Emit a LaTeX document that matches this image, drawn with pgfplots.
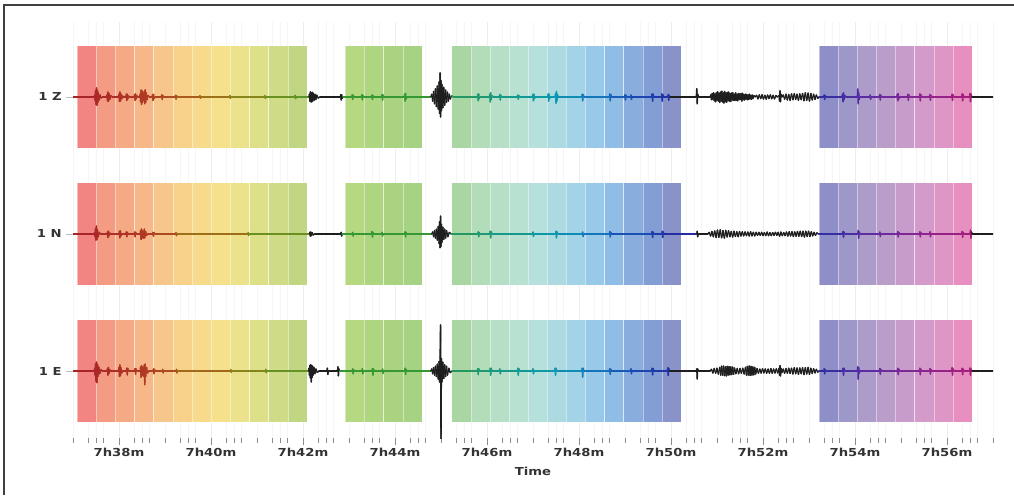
\documentclass[border=0pt]{standalone}
\usepackage{fontspec}
\setmainfont{DejaVu Sans}
\usepackage{pgfplots}
\usepackage{pgfplotstable}
\pgfplotsset{compat=1.18}

\definecolor{b1}{HTML}{F28482}\definecolor{b2}{HTML}{F49B84}\definecolor{b3}{HTML}{F5AA86}
\definecolor{b4}{HTML}{F6B888}\definecolor{b5}{HTML}{F7C68A}\definecolor{b6}{HTML}{F8D28B}
\definecolor{b7}{HTML}{F8DA8C}\definecolor{b8}{HTML}{F5E08C}\definecolor{b9}{HTML}{ECE28B}
\definecolor{b10}{HTML}{DEE089}\definecolor{b11}{HTML}{CFDB86}\definecolor{b12}{HTML}{C0D683}
\definecolor{b13}{HTML}{B6D881}\definecolor{b14}{HTML}{AED580}\definecolor{b15}{HTML}{A9D381}
\definecolor{b16}{HTML}{A6D284}\definecolor{b17}{HTML}{A9D6A2}\definecolor{b18}{HTML}{B3DCB9}
\definecolor{b19}{HTML}{B7DFC7}\definecolor{b20}{HTML}{B8E1D2}\definecolor{b21}{HTML}{B5E0DB}
\definecolor{b22}{HTML}{ADDAE1}\definecolor{b23}{HTML}{A3D3E6}\definecolor{b24}{HTML}{99C9E8}
\definecolor{b25}{HTML}{90BDE5}\definecolor{b26}{HTML}{89AEDD}\definecolor{b27}{HTML}{829ED4}
\definecolor{b28}{HTML}{8A93C9}\definecolor{b29}{HTML}{8E8FC8}\definecolor{b30}{HTML}{9E97C9}
\definecolor{b31}{HTML}{AD9BCA}\definecolor{b32}{HTML}{BB9DCA}\definecolor{b33}{HTML}{C79CCA}
\definecolor{b34}{HTML}{D39ACA}\definecolor{b35}{HTML}{DD96C5}\definecolor{b36}{HTML}{E78FBE}

\definecolor{tk}{HTML}{1E1E1E}
\definecolor{t1}{HTML}{A82226}\definecolor{t2}{HTML}{B03A26}\definecolor{t3}{HTML}{A8601C}
\definecolor{t4}{HTML}{908218}\definecolor{t5}{HTML}{669222}\definecolor{t6}{HTML}{56962A}
\definecolor{t7}{HTML}{369832}\definecolor{t8}{HTML}{289858}\definecolor{t9}{HTML}{149A8A}
\definecolor{t10}{HTML}{0C98B0}\definecolor{t11}{HTML}{1670BE}\definecolor{t12}{HTML}{1C3EAE}
\definecolor{t13}{HTML}{262CA2}\definecolor{t14}{HTML}{2C2EA2}\definecolor{t15}{HTML}{5C2CA2}
\definecolor{t16}{HTML}{882692}\definecolor{t17}{HTML}{A81C7A}

\pgfplotstableread{
t a
37.00 0
37.46 0
37.47 0.012
37.48 -0.025
37.49 0.045
37.50 -0.055
37.51 0.066
37.52 -0.06
37.53 0.05
37.54 -0.04
37.55 0.03
37.57 -0.022
37.59 0.015
37.61 -0.008
37.64 0
37.73 0
37.74 0.015
37.75 -0.028
37.76 0.036
37.77 -0.032
37.78 0.025
37.80 -0.018
37.82 0.01
37.85 0
37.99 0
38.00 0.02
38.01 -0.033
38.02 0.036
38.03 -0.03
38.04 0.022
38.06 -0.014
38.08 0.007
38.10 0
38.15 0
38.16 0.02
38.17 -0.025
38.18 0.02
38.19 -0.014
38.21 0.007
38.23 0
38.33 0
38.34 0.018
38.35 -0.025
38.36 0.022
38.37 -0.015
38.39 0.008
38.41 0
38.45 0
38.46 0.02
38.47 -0.035
38.48 0.05
38.49 -0.055
38.50 0.045
38.51 -0.04
38.52 0.032
38.54 -0.028
38.55 0.04
38.56 -0.05
38.57 0.052
38.58 -0.04
38.59 0.03
38.61 -0.02
38.63 0.012
38.66 0
38.72 0
38.73 0.015
38.74 -0.025
38.75 0.02
38.76 -0.012
38.78 0
38.92 0
38.93 0.015
38.94 -0.018
38.95 0.012
38.97 0
39.22 0
39.23 0.012
39.24 -0.016
39.25 0.01
39.27 0
39.75 0
39.76 0.01
39.77 -0.01
39.78 0
40.40 0
40.41 0.01
40.42 -0.01
40.43 0
41.16 0
41.17 0.01
41.18 -0.01
41.19 0
41.82 0
41.83 0.012
41.84 -0.012
41.85 0
42.13 0
42.14 0.02
42.15 -0.03
42.16 0.036
42.17 -0.035
42.18 0.03
42.19 -0.036
42.20 0.034
42.21 -0.03
42.22 0.028
42.24 -0.025
42.26 0.02
42.28 -0.018
42.30 0.013
42.33 -0.008
42.37 0
42.81 0
42.82 0.015
42.83 -0.022
42.84 0.016
42.85 -0.01
42.87 0
43.06 0
43.07 0.015
43.08 -0.018
43.09 0.012
43.11 0
43.27 0
43.28 0.016
43.29 -0.02
43.30 0.012
43.32 0
43.49 0
43.50 0.014
43.51 -0.018
43.52 0.01
43.54 0
43.71 0
43.72 0.018
43.73 -0.022
43.74 0.014
43.76 0
44.20 0
44.21 0.02
44.22 -0.03
44.23 0.025
44.24 -0.015
44.26 0
44.78 0
44.80 0.02
44.82 -0.03
44.84 0.04
44.86 -0.05
44.88 0.06
44.90 -0.07
44.92 0.08
44.94 -0.09
44.96 0.11
44.97 -0.12
44.98 0.175
44.99 -0.146
45.00 0.12
45.01 -0.1
45.02 0.09
45.04 -0.08
45.06 0.07
45.08 -0.06
45.10 0.05
45.12 -0.04
45.14 0.035
45.16 -0.03
45.18 0.02
45.20 -0.015
45.23 0.01
45.27 0
45.79 0
45.80 0.02
45.81 -0.028
45.82 0.022
45.83 -0.012
45.85 0
46.05 0
46.06 0.02
46.07 -0.036
46.08 0.03
46.09 -0.02
46.11 0.01
46.13 0
46.27 0
46.28 0.018
46.29 -0.022
46.30 0.012
46.32 0
46.66 0
46.67 0.014
46.68 -0.016
46.69 0.01
46.71 0
46.99 0
47.00 0.02
47.01 -0.028
47.02 0.02
47.03 -0.012
47.05 0
47.32 0
47.33 0.022
47.34 -0.03
47.35 0.02
47.36 -0.012
47.38 0
47.48 0
47.49 0.025
47.50 -0.045
47.51 0.04
47.52 -0.03
47.53 0.018
47.55 0
48.06 0
48.07 0.02
48.08 -0.028
48.09 0.018
48.11 0
48.66 0
48.67 0.022
48.68 -0.028
48.69 0.018
48.71 0
48.99 0
49.00 0.016
49.01 -0.022
49.02 0.012
49.04 0
49.12 0
49.13 0.014
49.14 -0.018
49.15 0
49.58 0
49.59 0.022
49.60 -0.03
49.61 0.02
49.63 0
49.79 0
49.80 0.022
49.81 -0.03
49.82 0.018
49.84 0
49.93 0
49.94 0.018
49.95 -0.024
49.96 0.012
49.98 0
50.55 0
50.56 0.06
50.57 -0.05
50.58 0.02
50.60 0
50.85 0
50.865 0.015
50.88 -0.02
50.895 0.025
50.91 -0.018
50.925 0.03
50.94 -0.028
50.955 0.022
50.97 -0.035
50.985 0.03
51.00 -0.025
51.015 0.038
51.03 -0.03
51.045 0.028
51.06 -0.04
51.075 0.035
51.09 -0.03
51.105 0.042
51.12 -0.036
51.135 0.03
51.15 -0.044
51.165 0.04
51.18 -0.035
51.195 0.03
51.21 -0.038
51.225 0.033
51.24 -0.028
51.255 0.036
51.27 -0.03
51.285 0.025
51.30 -0.032
51.315 0.028
51.33 -0.022
51.345 0.03
51.36 -0.025
51.375 0.02
51.39 -0.026
51.405 0.03
51.42 -0.024
51.435 0.02
51.45 -0.028
51.465 0.025
51.48 -0.02
51.495 0.022
51.51 -0.018
51.525 0.025
51.54 -0.03
51.555 0.026
51.57 -0.02
51.585 0.018
51.60 -0.022
51.615 0.02
51.63 -0.016
51.645 0.018
51.66 -0.02
51.675 0.015
51.69 -0.018
51.705 0.02
51.72 -0.015
51.735 0.012
51.75 -0.016
51.765 0.014
51.78 -0.012
51.80 0.01
51.83 0
51.86 0.012
51.89 -0.014
51.92 0.015
51.95 -0.012
51.98 0.016
52.01 -0.015
52.04 0.012
52.07 -0.016
52.10 0.014
52.13 -0.012
52.16 0.015
52.19 -0.013
52.22 0.012
52.25 -0.014
52.28 0.01
52.31 0
52.35 0.01
52.36 -0.03
52.37 0.045
52.38 -0.035
52.39 0.02
52.41 0
52.44 0.014
52.47 -0.016
52.50 0.02
52.53 -0.022
52.56 0.018
52.59 -0.025
52.62 0.022
52.65 -0.02
52.68 0.024
52.71 -0.018
52.74 0.02
52.77 -0.024
52.80 0.022
52.83 -0.02
52.86 0.025
52.89 -0.028
52.92 0.03
52.95 -0.025
52.98 0.028
53.01 -0.03
53.04 0.025
53.07 -0.022
53.10 0.02
53.13 -0.018
53.16 0.014
53.19 -0.01
53.22 0
53.32 0
53.33 0.014
53.34 -0.018
53.35 0.01
53.37 0
53.72 0
53.73 0.02
53.74 -0.035
53.75 0.03
53.76 -0.02
53.78 0.01
53.80 0
54.05 0
54.06 0.058
54.07 -0.05
54.08 0.03
54.09 -0.018
54.11 0
54.32 0
54.33 0.014
54.34 -0.016
54.35 0
54.53 0
54.54 0.018
54.55 -0.022
54.56 0.012
54.58 0
54.91 0
54.92 0.02
54.93 -0.028
54.94 0.025
54.95 -0.015
54.97 0
55.14 0
55.15 0.02
55.16 -0.025
55.17 0.015
55.19 0
55.40 0
55.41 0.022
55.42 -0.028
55.43 0.018
55.45 0
55.62 0
55.63 0.018
55.64 -0.024
55.65 0.012
55.67 0
56.10 0
56.11 0.02
56.12 -0.025
56.13 0.015
56.15 0
56.32 0
56.33 0.022
56.34 -0.028
56.35 0.018
56.37 0
56.49 0
56.50 0.025
56.51 -0.035
56.52 0.022
56.54 0
57.00 0
}\Ztr

\pgfplotstableread{
t a
37.00 0
37.46 0
37.47 0.01
37.48 -0.02
37.49 0.04
37.50 -0.045
37.51 0.058
37.52 -0.04
37.53 0.03
37.55 -0.02
37.57 0.012
37.60 0
37.74 0
37.75 0.015
37.76 -0.025
37.77 0.02
37.78 -0.014
37.80 0.007
37.82 0
38.00 0
38.01 0.02
38.02 -0.028
38.03 0.022
38.04 -0.014
38.06 0
38.15 0
38.16 0.015
38.17 -0.02
38.18 0.012
38.20 0
38.33 0
38.34 0.014
38.35 -0.02
38.36 0.012
38.38 0
38.46 0
38.47 0.025
38.48 -0.04
38.49 0.036
38.50 -0.03
38.52 0.022
38.54 -0.03
38.55 0.035
38.56 -0.028
38.58 0.018
38.60 -0.01
38.63 0
38.73 0
38.74 0.012
38.75 -0.016
38.76 0.01
38.78 0
39.23 0
39.24 0.01
39.25 -0.012
39.26 0
40.80 0
40.81 0.01
40.82 -0.01
40.83 0
42.14 0
42.15 0.012
42.16 -0.016
42.17 0.014
42.18 -0.012
42.20 0.01
42.22 -0.008
42.25 0
42.82 0
42.83 0.012
42.84 -0.015
42.85 0
43.07 0
43.08 0.012
43.09 -0.015
43.10 0
43.49 0
43.50 0.018
43.51 -0.022
43.52 0.012
43.54 0
43.71 0
43.72 0.012
43.73 -0.014
43.74 0
44.21 0
44.22 0.016
44.23 -0.02
44.24 0.01
44.26 0
44.80 0
44.82 0.015
44.84 -0.02
44.86 0.025
44.88 -0.03
44.90 0.035
44.92 -0.045
44.94 0.055
44.96 -0.07
44.97 0.09
44.98 -0.1
44.99 0.13
45.00 -0.09
45.01 0.07
45.02 -0.06
45.04 0.05
45.06 -0.04
45.08 0.035
45.10 -0.03
45.12 0.025
45.15 -0.02
45.18 0.012
45.22 0
45.80 0
45.81 0.015
45.82 -0.02
45.83 0.01
45.85 0
46.06 0
46.07 0.02
46.08 -0.028
46.09 0.018
46.11 0
46.99 0
47.00 0.014
47.01 -0.018
47.02 0
47.49 0
47.50 0.02
47.51 -0.028
47.52 0.016
47.54 0
48.07 0
48.08 0.014
48.09 -0.018
48.10 0
48.66 0
48.67 0.018
48.68 -0.022
48.69 0.012
48.71 0
49.58 0
49.59 0.018
49.60 -0.024
49.61 0.014
49.63 0
49.80 0
49.81 0.02
49.82 -0.026
49.83 0.014
49.85 0
50.56 0
50.57 0.02
50.58 -0.02
50.59 0
50.80 0
50.83 0.012
50.86 -0.015
50.89 0.018
50.92 -0.02
50.95 0.022
50.98 -0.025
51.01 0.028
51.04 -0.024
51.07 0.03
51.10 -0.028
51.13 0.025
51.16 -0.03
51.19 0.026
51.22 -0.022
51.25 0.024
51.28 -0.02
51.31 0.018
51.34 -0.022
51.37 0.02
51.40 -0.018
51.43 0.016
51.46 -0.02
51.49 0.018
51.52 -0.015
51.55 0.016
51.58 -0.014
51.61 0.015
51.64 -0.012
51.67 0.014
51.70 -0.015
51.73 0.016
51.76 -0.014
51.79 0.012
51.82 -0.014
51.85 0.012
51.88 -0.01
51.91 0.012
51.94 -0.01
51.97 0.012
52.00 -0.012
52.03 0.01
52.06 -0.012
52.09 0.014
52.12 -0.012
52.15 0.01
52.18 -0.012
52.21 0.01
52.24 -0.01
52.27 0.012
52.30 -0.01
52.33 0.012
52.36 -0.016
52.39 0.014
52.42 -0.012
52.45 0.01
52.48 -0.012
52.51 0.014
52.54 -0.015
52.57 0.016
52.60 -0.014
52.63 0.016
52.66 -0.018
52.69 0.015
52.72 -0.016
52.75 0.018
52.78 -0.016
52.81 0.02
52.84 -0.018
52.87 0.02
52.90 -0.022
52.93 0.02
52.96 -0.018
52.99 0.02
53.02 -0.018
53.05 0.016
53.08 -0.014
53.11 0.012
53.14 -0.01
53.17 0.008
53.21 0
53.73 0
53.74 0.018
53.75 -0.024
53.76 0.014
53.78 0
54.06 0
54.07 0.025
54.08 -0.03
54.09 0.015
54.11 0
54.53 0
54.54 0.014
54.55 -0.018
54.56 0
54.92 0
54.93 0.018
54.94 -0.022
54.95 0.012
54.97 0
55.40 0
55.41 0.016
55.42 -0.02
55.43 0.01
55.45 0
55.62 0
55.63 0.016
55.64 -0.02
55.65 0
56.32 0
56.33 0.018
56.34 -0.024
56.35 0.012
56.37 0
56.50 0
56.51 0.028
56.52 -0.03
56.53 0.015
56.55 0
57.00 0
}\Ntr

\pgfplotstableread{
t a
37.00 0
37.46 0
37.47 0.015
37.48 -0.03
37.49 0.05
37.50 -0.075
37.51 0.065
37.52 -0.085
37.53 0.05
37.54 -0.04
37.56 0.03
37.58 -0.02
37.61 0.01
37.64 0
37.74 0
37.75 0.018
37.76 -0.03
37.77 0.026
37.78 -0.018
37.80 0.01
37.82 0
37.99 0
38.00 0.025
38.01 -0.04
38.02 0.044
38.03 -0.035
38.04 0.025
38.06 -0.015
38.08 0
38.16 0
38.17 0.02
38.18 -0.028
38.19 0.02
38.21 0
38.34 0
38.35 0.018
38.36 -0.024
38.37 0.015
38.39 0
38.46 0
38.47 0.03
38.48 -0.045
38.49 0.04
38.50 -0.035
38.52 0.03
38.54 -0.04
38.55 0.045
38.56 -0.1
38.57 0.05
38.58 -0.04
38.60 0.025
38.62 -0.015
38.65 0
38.74 0
38.75 0.015
38.76 -0.02
38.77 0.012
38.79 0
38.94 0
38.95 0.012
38.96 -0.014
38.97 0
39.24 0
39.25 0.012
39.26 -0.014
39.27 0
40.42 0
40.43 0.01
40.44 -0.01
40.45 0
41.18 0
41.19 0.012
41.20 -0.012
41.21 0
42.12 0
42.13 0.02
42.14 -0.03
42.15 0.04
42.16 -0.05
42.17 0.045
42.18 -0.08
42.19 0.04
42.20 -0.045
42.21 0.035
42.22 -0.03
42.24 0.025
42.26 -0.02
42.28 0.015
42.31 -0.01
42.35 0
42.52 0
42.53 0.02
42.54 -0.025
42.55 0
42.75 0
42.76 0.03
42.77 -0.035
42.78 0.015
42.80 0
43.07 0
43.08 0.015
43.09 -0.02
43.10 0.01
43.12 0
43.28 0
43.29 0.016
43.30 -0.02
43.31 0
43.50 0
43.51 0.018
43.52 -0.03
43.53 0.015
43.55 0
43.72 0
43.73 0.014
43.74 -0.018
43.75 0
44.21 0
44.22 0.02
44.23 -0.025
44.24 0.012
44.26 0
44.78 0
44.80 0.015
44.82 -0.02
44.84 0.025
44.86 -0.03
44.88 0.035
44.90 -0.04
44.92 0.05
44.94 -0.06
44.96 0.07
44.97 -0.08
44.98 0.1
44.99 0.336
45.00 -0.52
45.01 0.09
45.02 -0.08
45.04 0.065
45.06 -0.055
45.08 0.045
45.10 -0.04
45.12 0.035
45.14 -0.03
45.17 0.02
45.20 -0.012
45.24 0
45.79 0
45.80 0.018
45.81 -0.026
45.82 0.016
45.84 0
46.06 0
46.07 0.02
46.08 -0.03
46.09 0.02
46.11 0
46.27 0
46.28 0.015
46.29 -0.02
46.30 0
46.66 0
46.67 0.02
46.68 -0.03
46.69 0.018
46.71 0
46.99 0
47.00 0.016
47.01 -0.02
47.02 0
47.47 0
47.48 0.02
47.49 -0.03
47.50 0.02
47.52 0
48.06 0
48.07 0.02
48.08 -0.044
48.09 0.02
48.11 0
48.66 0
48.67 0.018
48.68 -0.024
48.69 0.012
48.71 0
49.12 0
49.13 0.016
49.14 -0.02
49.15 0
49.58 0
49.59 0.02
49.60 -0.028
49.61 0.018
49.63 0
49.92 0
49.93 0.024
49.94 -0.032
49.95 0.018
49.97 0
50.55 0
50.56 0.015
50.57 -0.058
50.58 0.015
50.60 0
50.85 0
50.88 0.012
50.91 -0.015
50.94 0.018
50.97 -0.016
51.00 0.02
51.03 -0.022
51.06 0.026
51.08 -0.03
51.10 0.035
51.12 -0.03
51.14 0.036
51.16 -0.034
51.18 0.03
51.20 -0.036
51.22 0.034
51.24 -0.03
51.26 0.032
51.28 -0.028
51.30 0.03
51.32 -0.026
51.34 0.028
51.36 -0.024
51.38 0.022
51.41 -0.02
51.44 0.018
51.47 -0.02
51.50 0.018
51.53 -0.016
51.56 0.02
51.59 -0.022
51.62 0.026
51.64 -0.03
51.66 0.034
51.68 -0.03
51.70 0.036
51.72 -0.032
51.74 0.034
51.76 -0.03
51.78 0.03
51.80 -0.028
51.82 0.026
51.84 -0.022
51.87 0.018
51.90 -0.016
51.93 0.014
51.96 -0.015
51.99 0.016
52.02 -0.014
52.05 0.015
52.08 -0.016
52.11 0.014
52.14 -0.016
52.17 0.018
52.20 -0.016
52.23 0.014
52.26 -0.015
52.29 0.016
52.32 -0.014
52.35 0.02
52.36 -0.03
52.37 0.04
52.38 -0.036
52.39 0.02
52.41 -0.012
52.44 0.014
52.47 -0.016
52.50 0.018
52.53 -0.016
52.56 0.02
52.59 -0.018
52.62 0.02
52.65 -0.022
52.68 0.024
52.71 -0.02
52.74 0.022
52.77 -0.024
52.80 0.022
52.83 -0.02
52.86 0.024
52.89 -0.026
52.92 0.024
52.95 -0.022
52.98 0.026
53.01 -0.024
53.04 0.02
53.07 -0.018
53.10 0.016
53.13 -0.014
53.16 0.012
53.19 -0.008
53.22 0
53.32 0
53.33 0.016
53.34 -0.02
53.35 0.01
53.37 0
53.73 0
53.74 0.02
53.75 -0.03
53.76 0.02
53.78 0
54.05 0
54.06 0.03
54.07 -0.06
54.08 0.025
54.09 -0.015
54.11 0
54.53 0
54.54 0.018
54.55 -0.024
54.56 0.012
54.58 0
54.92 0
54.93 0.02
54.94 -0.026
54.95 0.014
54.97 0
55.40 0
55.41 0.02
55.42 -0.026
55.43 0.014
55.45 0
55.62 0
55.63 0.018
55.64 -0.022
55.65 0.01
55.67 0
56.10 0
56.11 0.024
56.12 -0.03
56.13 0.016
56.15 0
56.32 0
56.33 0.02
56.34 -0.026
56.35 0.014
56.37 0
56.49 0
56.50 0.022
56.51 -0.03
56.52 0.016
56.54 0
57.00 0
}\Etr

\begin{document}
\begin{tikzpicture}
\path[use as bounding box] (0pt,0pt) rectangle (1014pt,495pt);
\begin{axis}[
  at={(73pt,57pt)}, anchor=south west,
  scale only axis, width=920pt, height=416pt,
  xmin=37, xmax=57, ymin=-0.489, ymax=2.547,
  axis line style={draw=none},
  xtick={38,40,42,44,46,48,50,52,54,56},
  xticklabels={7h38m,7h40m,7h42m,7h44m,7h46m,7h48m,7h50m,7h52m,7h54m,7h56m},
  minor xtick={37,37.3333,37.5,37.6667,38.3333,38.5,38.6667,39,39.3333,39.5,39.6667,
    40.3333,40.5,40.6667,41,41.3333,41.5,41.6667,42.3333,42.5,42.6667,43,43.3333,43.5,43.6667,
    44.3333,44.5,44.6667,45,45.3333,45.5,45.6667,46.3333,46.5,46.6667,47,47.3333,47.5,47.6667,
    48.3333,48.5,48.6667,49,49.3333,49.5,49.6667,50.3333,50.5,50.6667,51,51.3333,51.5,51.6667,
    52.3333,52.5,52.6667,53,53.3333,53.5,53.6667,54.3333,54.5,54.6667,55,55.3333,55.5,55.6667,
    56.3333,56.5,56.6667,57},
  xmajorgrids, xminorgrids,
  major grid style={black!7, line width=0.5pt},
  minor grid style={black!4, line width=0.5pt},
  ytick={0,1,2}, yticklabels={1 E,1 N,1 Z},
  tick align=outside, major tick length=7pt, minor tick length=4.5pt,
  tick style={black!45, line width=0.6pt},
  ytick style={black!25, line width=0.6pt},
  xtick pos=bottom, ytick pos=left,
  ticklabel style={font=\fontsize{11}{12}\selectfont\bfseries, text=black!80, xscale=1.2},
  xlabel={Time},
  xlabel style={font=\fontsize{11}{12}\selectfont\bfseries, text=black!80, xscale=1.2, yshift=-3pt},
  colormap={trace}{color(37pt)=(tk) color(37.08pt)=(tk) color(37.09pt)=(t1) color(38.6pt)=(t2)
    color(39.6pt)=(t3) color(40.6pt)=(t4) color(41.6pt)=(t5) color(42.08pt)=(t6) color(42.09pt)=(tk)
    color(42.91pt)=(tk) color(42.92pt)=(t7) color(44.58pt)=(t7) color(44.59pt)=(tk) color(45.22pt)=(tk)
    color(45.23pt)=(t8) color(46.5pt)=(t9) color(47.5pt)=(t10) color(48.5pt)=(t11) color(49.5pt)=(t12)
    color(50.21pt)=(t13) color(50.22pt)=(tk) color(53.21pt)=(tk) color(53.22pt)=(t14) color(54.3pt)=(t15)
    color(55.4pt)=(t16) color(56.53pt)=(t17) color(56.54pt)=(tk) color(57pt)=(tk)},
  point meta min=37, point meta max=57,
]
\foreach \a/\b/\c in {37.087/37.504/b1,37.504/37.920/b2,37.920/38.337/b3,38.337/38.754/b4,
  38.754/39.170/b5,39.170/39.587/b6,39.587/40.004/b7,40.004/40.420/b8,40.420/40.837/b9,
  40.837/41.254/b10,41.254/41.670/b11,41.670/42.087/b12,
  42.913/43.331/b13,43.331/43.750/b14,43.750/44.168/b15,44.168/44.587/b16,
  45.232/45.647/b17,45.647/46.063/b18,46.063/46.478/b19,46.478/46.894/b20,46.894/47.309/b21,
  47.309/47.725/b22,47.725/48.140/b23,48.140/48.556/b24,48.556/48.971/b25,48.971/49.386/b26,
  49.386/49.802/b27,49.802/50.217/b28,
  53.217/53.633/b29,53.633/54.049/b30,54.049/54.464/b31,54.464/54.880/b32,54.880/55.296/b33,
  55.296/55.712/b34,55.712/56.127/b35,56.127/56.543/b36}{
  \foreach \lo/\hi in {-0.375/0.375,0.625/1.375,1.625/2.375}{
    \edef\temp{\noexpand\addplot[fill=\c, draw=white, draw opacity=0.45, line width=0.4pt]
      coordinates {(\a,\lo) (\b,\lo) (\b,\hi) (\a,\hi)} -- cycle;}
    \temp
  }
}
\addplot[mesh, point meta=x, line width=1.4pt, line cap=round, line join=round]
  table[x=t, y expr=\thisrow{a}+2] {\Ztr};
\addplot[mesh, point meta=x, line width=1.4pt, line cap=round, line join=round]
  table[x=t, y expr=\thisrow{a}+1] {\Ntr};
\addplot[mesh, point meta=x, line width=1.4pt, line cap=round, line join=round]
  table[x=t, y expr=\thisrow{a}] {\Etr};
\end{axis}
\draw[line width=1.4pt, black!75] (4pt,0pt) -- (4pt,490pt) -- (1014pt,490pt);
\end{tikzpicture}
\end{document}
